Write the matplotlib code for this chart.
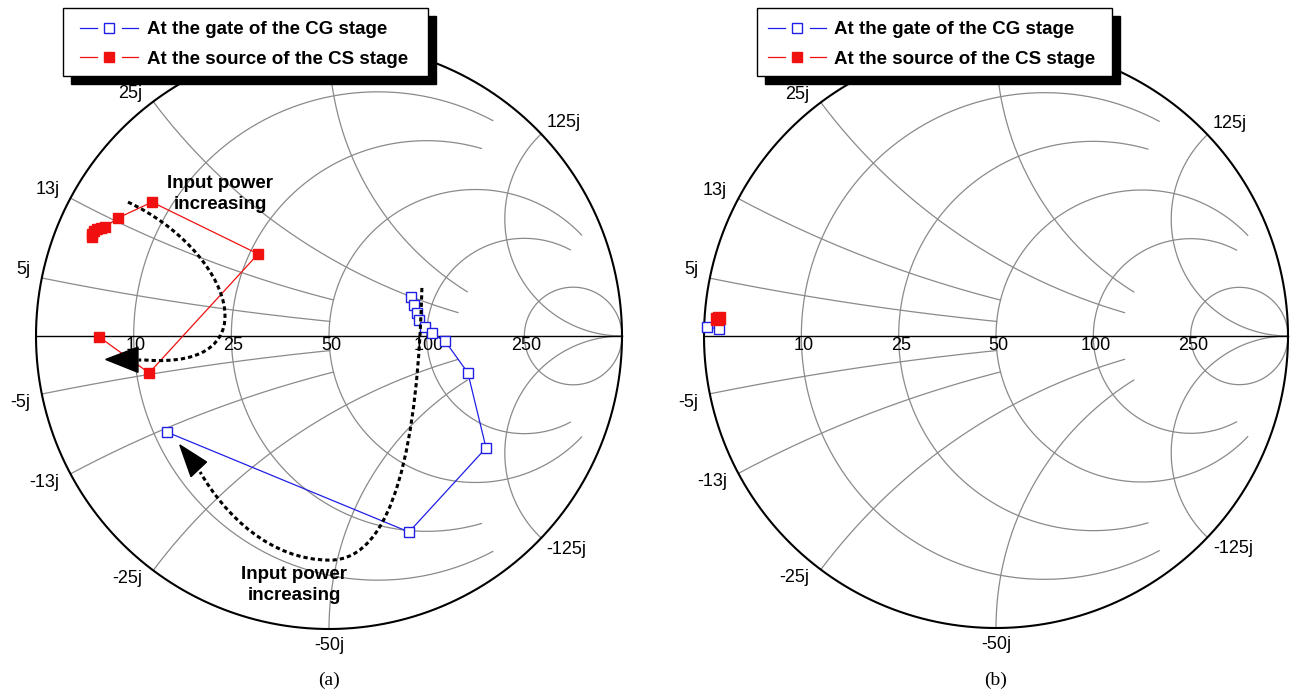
import numpy as np
import matplotlib.pyplot as plt
from matplotlib.patches import Polygon, Rectangle, PathPatch
from matplotlib.path import Path

plt.rcParams['font.family'] = ['Liberation Sans', 'DejaVu Sans']

Z0 = 50.0

# Smith chart grid (ohms); circles/arcs are cut off at the given limit
r_values = [10, 25, 50, 100, 250]
r_limits = [100, 100, 250, 250, None]      # max |X| drawn on each R circle
x_values = [5, 12.5, 25, 50, 125]
x_limits = [50, 50, 125, 125, None]        # max R drawn on each X arc
r_labels = ['10', '25', '50', '100', '250']
x_labels_pos = ['5j', '13j', '25j', '', '125j']   # top label sits under the legend
x_labels_neg = ['-5j', '-13j', '-25j', '-50j', '-125j']

# reflection coefficients, (a): CG gate and CS source vs input power
cg_a_re = [0.280, 0.290, 0.300, 0.307, 0.328, 0.352, 0.396, 0.474, 0.536, 0.273, -0.553]
cg_a_im = [0.133, 0.106, 0.078, 0.055, 0.031, 0.010, -0.017, -0.126, -0.382, -0.669, -0.328]
cs_a_re = [-0.809, -0.809, -0.802, -0.792, -0.778, -0.765, -0.720, -0.604, -0.242, -0.614, -0.785]
cs_a_im = [0.338, 0.348, 0.358, 0.365, 0.369, 0.372, 0.403, 0.457, 0.280, -0.126, -0.003]

# (b)
cg_b_re = [-0.990, -0.949]
cg_b_im = [0.031, 0.024]
cs_b_re = [-0.955, -0.949]
cs_b_im = [0.058, 0.062]

BLUE = '#1f1fe6'
RED = '#f01010'
GRID = '#8a8a8a'

W, H = 1291, 693
fig = plt.figure(figsize=(W / 100, H / 100), dpi=100)


def gamma(z):
    return (z - 1) / (z + 1)


def smith_axes(x0, x1, cx, cy, rad):
    ax = fig.add_axes([x0 / W, 0, (x1 - x0) / W, 1])
    ax.set_xlim((x0 - cx) / rad, (x1 - cx) / rad)
    ax.set_ylim((cy - H) / rad, cy / rad)
    ax.axis('off')

    # constant resistance circles
    for r, lim in zip(r_values, r_limits):
        if lim is None:
            xn = np.tan(np.linspace(-np.pi / 2 + 1e-4, np.pi / 2 - 1e-4, 800))
        else:
            xn = np.linspace(-lim, lim, 600) / Z0
        g = gamma(r / Z0 + 1j * xn)
        ax.plot(g.real, g.imag, color=GRID, lw=0.9, zorder=1)

    # constant reactance arcs
    for x, lim in zip(x_values, x_limits):
        if lim is None:
            rn = np.tan(np.linspace(0, np.pi / 2 - 1e-4, 600))
        else:
            rn = np.linspace(0, lim / Z0, 600)
        for s in (1, -1):
            g = gamma(rn + 1j * s * x / Z0)
            ax.plot(g.real, g.imag, color=GRID, lw=0.9, zorder=1)

    t = np.linspace(0, 2 * np.pi, 720)
    ax.plot(np.cos(t), np.sin(t), color='black', lw=1.5, zorder=2)
    ax.plot([-1, 1], [0, 0], color='black', lw=1.0, zorder=2)

    for r, lab in zip(r_values, r_labels):
        g = gamma(r / Z0)
        ax.annotate(lab, (g, 0), xytext=(1.5, -6.5), textcoords='offset points',
                    ha='center', va='center', fontsize=13)

    for s, labels in ((1, x_labels_pos), (-1, x_labels_neg)):
        for x, lab in zip(x_values, labels):
            if not lab:
                continue
            g = gamma(1j * s * x / Z0)
            if g.real < -0.05:
                off, ha = (-8, 6 * s), 'right'
            elif g.real > 0.05:
                off, ha = (4, 8 * s), 'left'
            else:
                off, ha = (0, 12 * s), 'center'
            ax.annotate(lab, (g.real, g.imag), xytext=off, textcoords='offset points',
                        ha=ha, va='center', fontsize=13)
    return ax


def power_arrow(ax, verts, codes, head):
    ax.add_patch(PathPatch(Path(verts, codes), fill=False, color='black', lw=2.2,
                           linestyle=(0, (1.4, 1.0)), capstyle='butt', zorder=4))
    ax.add_patch(Polygon(head, closed=True, color='black', zorder=4))


# (a)
ax_a = smith_axes(0, 662, 329, 336, 293)
ax_a.plot(cg_a_re, cg_a_im, color=BLUE, lw=0.9, marker='s', ms=7.2,
          mfc='white', mec=BLUE, mew=1.0, zorder=3)
ax_a.plot(cs_a_re, cs_a_im, color=RED, lw=0.9, marker='s', ms=7.2,
          mfc=RED, mec=RED, zorder=3)

power_arrow(ax_a,
            [(-0.686, 0.457), (-0.338, 0.294), (-0.184, -0.116), (-0.628, -0.082),
             (-0.650, -0.082)],
            [Path.MOVETO, Path.CURVE4, Path.CURVE4, Path.CURVE4, Path.LINETO],
            [(-0.762, -0.080), (-0.652, -0.038), (-0.652, -0.124)])
power_arrow(ax_a,
            [(0.317, 0.164), (0.304, -0.355), (0.225, -0.765), (0.003, -0.765),
             (-0.201, -0.765), (-0.355, -0.611), (-0.440, -0.464)],
            [Path.MOVETO] + [Path.CURVE4] * 6,
            [(-0.509, -0.372), (-0.471, -0.480), (-0.418, -0.430)])

for gx, gy in [(-0.372, 0.485), (-0.119, -0.850)]:
    ax_a.text(gx, gy, 'Input power\nincreasing', ha='center', va='center',
              fontsize=13.5, fontweight='bold', linespacing=1.3, zorder=5)

# (b)
ax_b = smith_axes(662, W, 996, 336, 292)
ax_b.plot(cg_b_re, cg_b_im, color=BLUE, lw=0.9, marker='s', ms=7.2,
          mfc='white', mec=BLUE, mew=1.0, zorder=3)
ax_b.plot(cs_b_re, cs_b_im, color=RED, lw=0.9, marker='s', ms=8,
          mfc=RED, mec=RED, zorder=3)

# legends and captions on a pixel overlay
top = fig.add_axes([0, 0, 1, 1])
top.set_xlim(0, W)
top.set_ylim(H, 0)
top.axis('off')

entries = [('At the gate of the CG stage', BLUE, 'white'),
           ('At the source of the CS stage', RED, RED)]


def draw_legend(left, right, y0, y1, hx, tx):
    top.add_patch(Rectangle((left + 8, y0 + 8), right - left, y1 - y0,
                            color='black', zorder=10))
    top.add_patch(Rectangle((left, y0), right - left, y1 - y0, facecolor='white',
                            edgecolor='black', lw=1.0, zorder=11))
    for row_y, (label, col, face) in zip([28, 57], entries):
        top.plot([hx, hx + 17], [row_y, row_y], color=col, lw=0.9, zorder=12)
        top.plot([hx + 42, hx + 58], [row_y, row_y], color=col, lw=0.9, zorder=12)
        top.plot(hx + 29, row_y, marker='s', ms=7.2, mfc=face, mec=col, mew=1.0,
                 zorder=12)
        top.text(tx, row_y + 6.5, label, va='baseline', ha='left', fontsize=13.5,
                 fontweight='bold', zorder=12)


draw_legend(63, 428, 8, 76, 80, 147)
draw_legend(757, 1112, 8, 76, 768, 834)

for cx, cap in [(329, '(a)'), (996, '(b)')]:
    top.text(cx, 680, cap, ha='center', va='center', fontsize=14,
             family=['Liberation Serif', 'DejaVu Serif'])

fig.savefig('out.png', dpi=100)
